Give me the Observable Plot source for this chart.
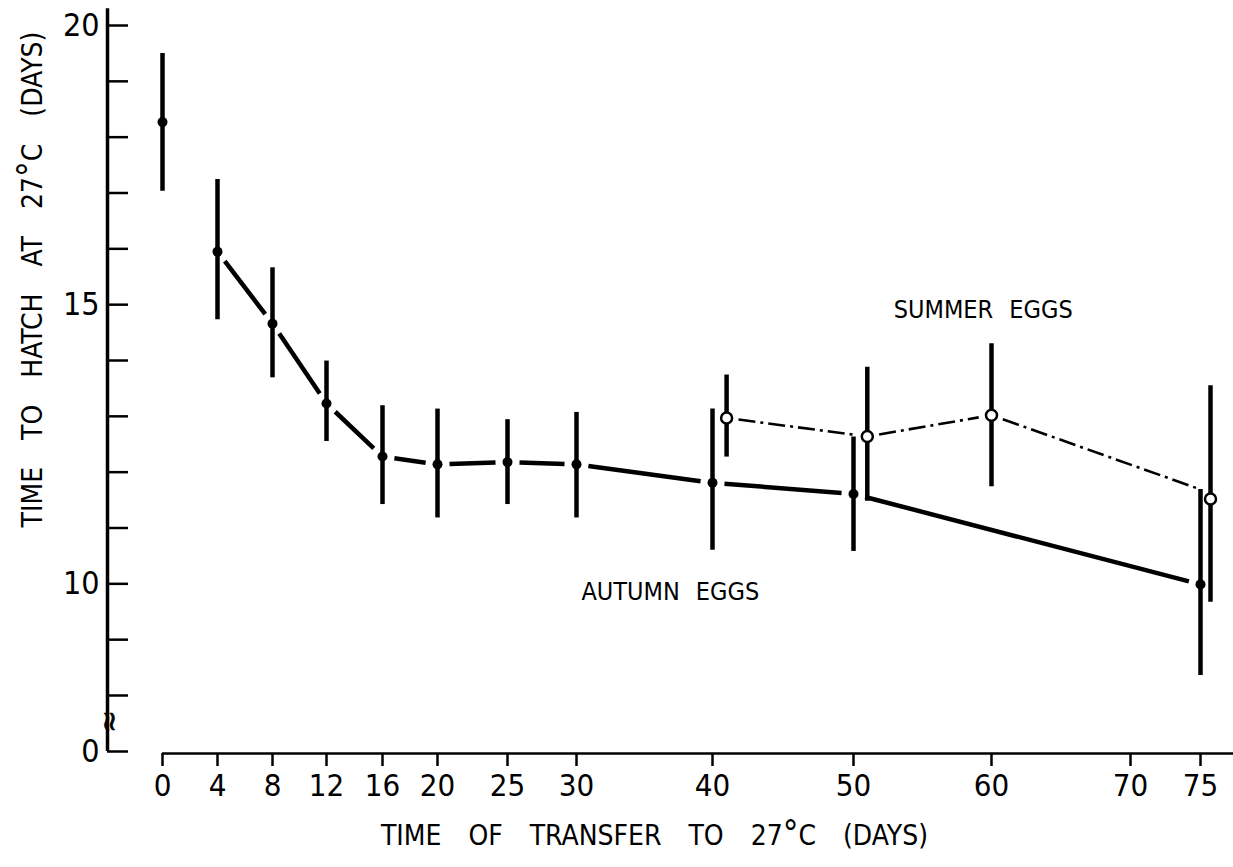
<!DOCTYPE html>
<html><head><meta charset="utf-8">
<script src="https://cdn.jsdelivr.net/npm/d3@7"></script>
<script src="https://cdn.jsdelivr.net/npm/@observablehq/plot@0.6"></script>
<style>
html,body{margin:0;padding:0;background:#fff;overflow:hidden;}
#chart svg text{font-family:"Liberation Sans Narrow","DejaVu Sans Condensed",sans-serif;}
</style></head><body><div id="chart"></div>
<script>
// ---- data ----
const autumnDays = [0, 4, 8, 12, 16, 20, 25, 30, 40, 50, 75];
const autumnMean = [18.27, 15.95, 14.66, 13.23, 12.28, 12.14, 12.18, 12.14, 11.81, 11.61, 9.99];
const autumnLow  = [17.03, 14.73, 13.69, 12.55, 11.42, 11.18, 11.42, 11.18, 10.60, 10.58, 8.36];
const autumnHigh = [19.50, 17.24, 15.66, 13.99, 13.19, 13.13, 12.94, 13.07, 13.13, 12.63, 11.69];

const summerDays = [41, 51, 60, 76];
const summerMean = [12.97, 12.64, 13.02, 11.52];
const summerLow  = [12.27, 11.48, 11.74, 9.67];
const summerHigh = [13.74, 13.88, 14.30, 13.55];

const xTickValues = [0, 4, 8, 12, 16, 20, 25, 30, 40, 50, 60, 70, 75];
const yTickMarks = [0, 8, 9, 10, 11, 12, 13, 14, 15, 16, 17, 18, 19, 20];
const yTickLabels = [0, 10, 15, 20];

const seriesLabels = ["AUTUMN EGGS", "SUMMER EGGS"];
const seriesLabelDay = [36.9, 59.4];
const seriesLabelValue = [9.86, 14.9];

const xTitle = "TIME OF TRANSFER TO 27°C (DAYS)";
const yTitle = "TIME TO HATCH AT 27°C (DAYS)";

// ---- tables ----
const autumn = autumnDays.map((d, i) => ({day: d, mean: autumnMean[i], low: autumnLow[i], high: autumnHigh[i]}));
const summer = summerDays.map((d, i) => ({day: d, mean: summerMean[i], low: summerLow[i], high: summerHigh[i]}));
const labels = seriesLabels.map((t, i) => ({text: t, day: seriesLabelDay[i], value: seriesLabelValue[i]}));

// autumn line starts at day 4 (day 0 not connected)
const autumnSeg = [];
for (let i = 1; i < autumn.length - 1; i++) {
  autumnSeg.push({x1: autumn[i].day, y1: autumn[i].mean, x2: autumn[i + 1].day, y2: autumn[i + 1].mean});
}
// summer line: 41 -> 51 -> 60, then to the top of the last autumn bar
const summerSeg = [];
for (let i = 0; i < 2; i++) {
  summerSeg.push({x1: summer[i].day, y1: summer[i].mean, x2: summer[i + 1].day, y2: summer[i + 1].mean});
}
const lastA = autumn[autumn.length - 1];
const summerTail = [{x1: summer[2].day, y1: summer[2].mean, x2: lastA.day, y2: lastA.high}];

const W = 1233, H = 867;
const mL = 107, mB = 114, mT = 8, mR = 0;
const font = '"Liberation Sans Narrow","DejaVu Sans Condensed",sans-serif';

const chart = Plot.plot({
  width: W, height: H,
  marginLeft: mL, marginRight: mR, marginTop: mT, marginBottom: mB,
  style: {fontFamily: font, background: "#fff", color: "#000"},
  x: {type: "linear",
      domain: [-4, 0, 4, 8, 12, 16, 20, 25, 30, 40, 50, 60, 70, 75, 76, 78],
      range:  [107, 162, 217, 272, 326, 382, 437, 507, 576, 712, 853, 991, 1130, 1200, 1210, 1238]},
  y: {type: "linear", domain: [0, 8, 20], range: [751, 695, 25]},
  marks: [
    // axes
    Plot.ruleX([-4], {x: d => d, y1: 0, y2: 20.3, strokeWidth: 3.5, stroke: "#000"}),
    Plot.ruleY([0], {y: d => d, x1: 0, x2: 78, dy: 2, strokeWidth: 2.5, stroke: "#000"}),
    Plot.tickY(yTickMarks, {y: d => d, insetRight: W - mL - mR - 21, strokeWidth: 2.5, stroke: "#000"}),
    Plot.axisY({ticks: yTickLabels, tickSize: 0, tickPadding: 8, fontSize: 32, label: null, tickFormat: d => String(d)}),
    Plot.axisX({ticks: xTickValues, tickSize: 13, tickPadding: 7, fontSize: 31, strokeWidth: 2.5, label: null, tickFormat: d => String(d)}),
    Plot.text(["≈"], {frameAnchor: "bottom-left", textAnchor: "middle", lineAnchor: "middle", dx: 2, dy: -32, fontSize: 30, rotate: 90, fill: "#000", stroke: "#000", strokeWidth: 0.6}),
    // error bars
    Plot.ruleX(autumn, {x: "day", y1: "low", y2: "high", strokeWidth: 4.5, stroke: "#000"}),
    Plot.ruleX(summer, {x: "day", y1: "low", y2: "high", strokeWidth: 4.5, stroke: "#000"}),
    // connecting lines
    Plot.arrow(autumnSeg, {x1: "x1", y1: "y1", x2: "x2", y2: "y2", headLength: 0, insetStart: 12, insetEnd: 12,
      strokeWidth: 4.5, stroke: "#000", strokeLinecap: "butt"}),
    Plot.arrow(summerSeg, {x1: "x1", y1: "y1", x2: "x2", y2: "y2", headLength: 0, insetStart: 12, insetEnd: 13,
      strokeWidth: 2.6, stroke: "#000", strokeLinecap: "butt", strokeDasharray: "17,5,3,5"}),
    Plot.arrow(summerTail, {x1: "x1", y1: "y1", x2: "x2", y2: "y2", headLength: 0, insetStart: 12, insetEnd: 0,
      strokeWidth: 2.6, stroke: "#000", strokeLinecap: "butt", strokeDasharray: "17,5,3,5"}),
    // points
    Plot.dot(autumn, {x: "day", y: "mean", r: 5, fill: "#000", stroke: "none"}),
    Plot.dot(summer, {x: "day", y: "mean", r: 5.5, fill: "#fff", stroke: "#000", strokeWidth: 2.5}),
    // labels
    Plot.text(labels, {x: "day", y: "value", text: "text", fontSize: 25, fill: "#000"}),
    Plot.text([xTitle], {frameAnchor: "bottom", textAnchor: "middle", lineAnchor: "middle", dx: -16, dy: 83, fontSize: 28, fill: "#000"}),
    Plot.text([yTitle], {frameAnchor: "left", textAnchor: "middle", lineAnchor: "middle", dx: -74, dy: -101.5, fontSize: 28, rotate: -90, fill: "#000"})
  ]
});

d3.select(chart).selectAll("text").each(function () {
  const t = this.textContent;
  if (t === xTitle || t === yTitle) {
    this.style.wordSpacing = "19px";
    const parts = t.split("°");
    this.textContent = "";
    const s = d3.select(this);
    s.append("tspan").text(parts[0]);
    s.append("tspan").attr("font-size", "1.25em").text("°");
    s.append("tspan").text(parts[1]);
  } else if (seriesLabels.includes(t)) {
    this.style.wordSpacing = "9px";
  }
});

document.getElementById("chart").appendChild(chart);
</script>
</body></html>
